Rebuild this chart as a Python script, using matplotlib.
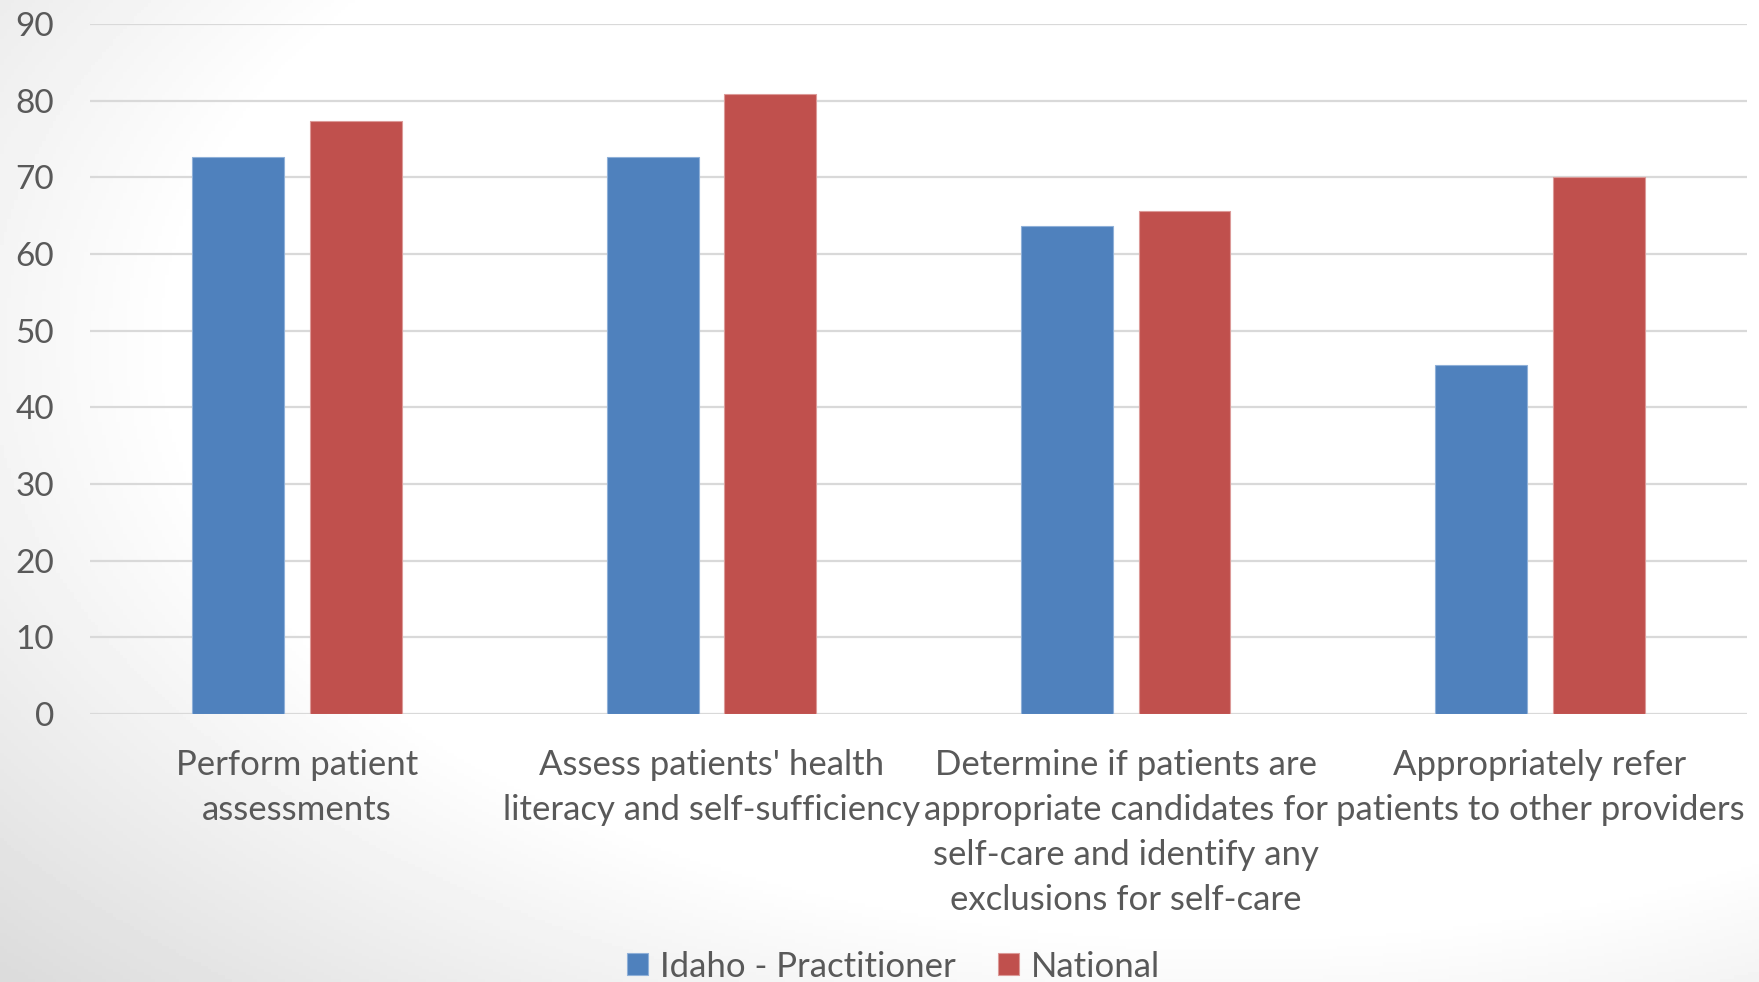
import numpy as np
import matplotlib.pyplot as plt

# ------------------ DATA ------------------
categories = [
    "Perform patient\nassessments",
    "Assess patients' health\nliteracy and self-sufficiency",
    "Determine if patients are\nappropriate candidates for\nself-care and identify any\nexclusions for self-care",
    "Appropriately refer\npatients to other providers",
]
idaho = [72.7, 72.7, 63.6, 45.5]
national = [77.4, 80.8, 65.6, 70.0]
series_names = ["Idaho - Practitioner", "National"]
yticks = list(range(0, 100, 10))

blue = "#4f81bd"
red = "#c0504d"
text_col = "#595959"
font = ["Lato", "DejaVu Sans"]

# ------------------ FIGURE ------------------
fig = plt.figure(figsize=(17.59, 9.82), dpi=100)
plt.rcParams["font.family"] = font

# soft radial background: white top-right, grey toward bottom-left
bg = fig.add_axes([0, 0, 1, 1], zorder=-10)
yy, xx = np.mgrid[1:0:300j, 0:1:500j]
r = np.sqrt((xx - 0.7) ** 2 + (yy - 0.65) ** 2)
shade = 1 - 0.14 * np.clip((r - 0.6) / 0.35, 0, 1)
bg.imshow(shade, cmap="gray", vmin=0, vmax=1, aspect="auto", extent=[0, 1, 0, 1])
bg.axis("off")

ax = fig.add_axes([0.0512, 0.2729, 0.942, 0.7027])
ax.patch.set_alpha(0)

x = np.arange(len(categories))
w = 0.222
off = 0.142
ax.bar(x - off, idaho, w, color=blue, edgecolor="#8fb0d8", linewidth=0.8,
       label=series_names[0], zorder=3)
ax.bar(x + off, national, w, color=red, edgecolor="#dc9a98", linewidth=0.8,
       label=series_names[1], zorder=3)

ax.set_xlim(-0.5, len(categories) - 0.5)
ax.set_ylim(0, 90)
ax.set_yticks(yticks)
ax.set_yticklabels([str(t) for t in yticks])
ax.set_xticks(x)
ax.set_xticklabels(categories, linespacing=1.5)
ax.grid(axis="y", color="#d9d9d9", linewidth=1.6, zorder=0)
ax.set_axisbelow(True)
for s in ax.spines.values():
    s.set_visible(False)
ax.tick_params(axis="both", length=0, labelsize=25, labelcolor=text_col)
ax.tick_params(axis="y", labelsize=24, pad=26)
ax.tick_params(axis="x", pad=25)

leg = ax.legend(loc="center", bbox_to_anchor=(0.485, -0.366), ncol=2,
                frameon=False, fontsize=25, handlelength=0.6, handleheight=0.6,
                handletextpad=0.35, columnspacing=1.2)
for t in leg.get_texts():
    t.set_color(text_col)

fig.savefig("out.png", dpi=100)
